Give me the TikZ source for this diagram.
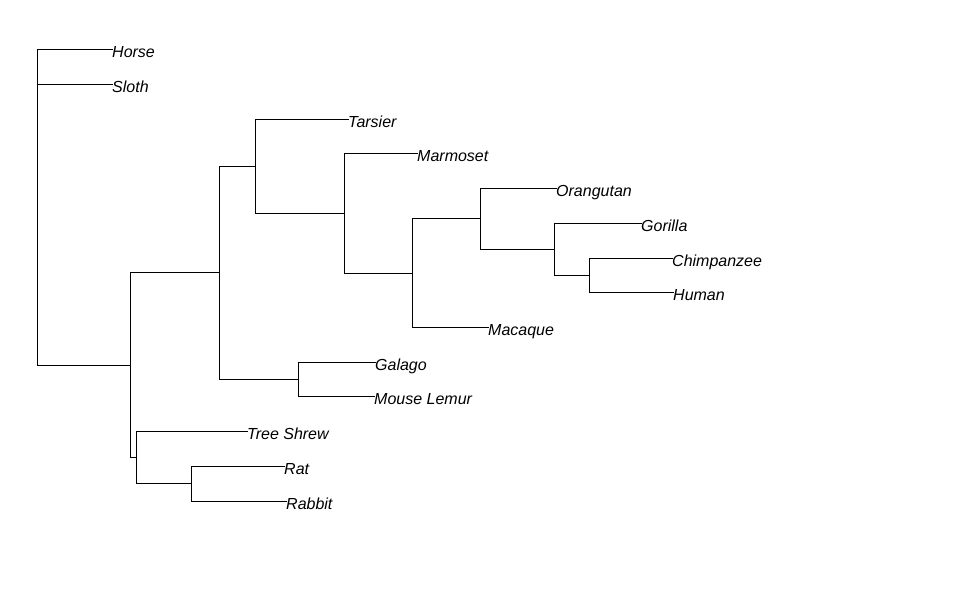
\documentclass[tikz,border=0pt]{standalone}
\usepackage{fontspec}
\setmainfont{Liberation Sans}
\begin{document}
\begin{tikzpicture}[x=1pt,y=-1pt,
  edge/.style={draw=black,line width=1pt,line cap=rect},
  tip/.style={anchor=west,inner sep=0pt,text height=16pt,text depth=0pt,
    font=\fontsize{16}{16}\selectfont\itshape}]
\useasboundingbox (0,0) rectangle (971,611);
% internal nodes of the tree
\coordinate (root) at (37,207);
\coordinate (na) at (130,365);
\coordinate (nc) at (136,457);
\coordinate (nd) at (191,483);
\coordinate (nb) at (219,272);
\coordinate (nf) at (298,379);
\coordinate (ne) at (255,166);
\coordinate (ng) at (344,213);
\coordinate (nh) at (412,273);
\coordinate (ni) at (480,218);
\coordinate (nj) at (554,249);
\coordinate (nk) at (589,275);
% tip labels
\node[tip] (horse) at (112,49) {Horse};
\node[tip] (sloth) at (112,84) {Sloth};
\node[tip] (tarsier) at (348,119) {Tarsier};
\node[tip] (marmoset) at (417,153) {Marmoset};
\node[tip] (orangutan) at (556,188) {Orangutan};
\node[tip] (gorilla) at (641,223) {Gorilla};
\node[tip] (chimp) at (672,258) {Chimpanzee};
\node[tip] (human) at (673,292) {Human};
\node[tip] (macaque) at (488,327) {Macaque};
\node[tip] (galago) at (375,362) {Galago};
\node[tip] (lemur) at (374,396) {Mouse Lemur};
\node[tip] (shrew) at (247,431) {Tree Shrew};
\node[tip] (rat) at (284,466) {Rat};
\node[tip] (rabbit) at (286,501) {Rabbit};
% branches
\draw[edge] (root) |- (horse.west);
\draw[edge] (root) |- (sloth.west);
\draw[edge] (root) |- (na);
\draw[edge] (na) |- (nb);
\draw[edge] (na) |- (nc);
\draw[edge] (nc) |- (shrew.west);
\draw[edge] (nc) |- (nd);
\draw[edge] (nd) |- (rat.west);
\draw[edge] (nd) |- (rabbit.west);
\draw[edge] (nb) |- (ne);
\draw[edge] (nb) |- (nf);
\draw[edge] (nf) |- (galago.west);
\draw[edge] (nf) |- (lemur.west);
\draw[edge] (ne) |- (tarsier.west);
\draw[edge] (ne) |- (ng);
\draw[edge] (ng) |- (marmoset.west);
\draw[edge] (ng) |- (nh);
\draw[edge] (nh) |- (ni);
\draw[edge] (nh) |- (macaque.west);
\draw[edge] (ni) |- (orangutan.west);
\draw[edge] (ni) |- (nj);
\draw[edge] (nj) |- (gorilla.west);
\draw[edge] (nj) |- (nk);
\draw[edge] (nk) |- (chimp.west);
\draw[edge] (nk) |- (human.west);
\end{tikzpicture}
\end{document}
